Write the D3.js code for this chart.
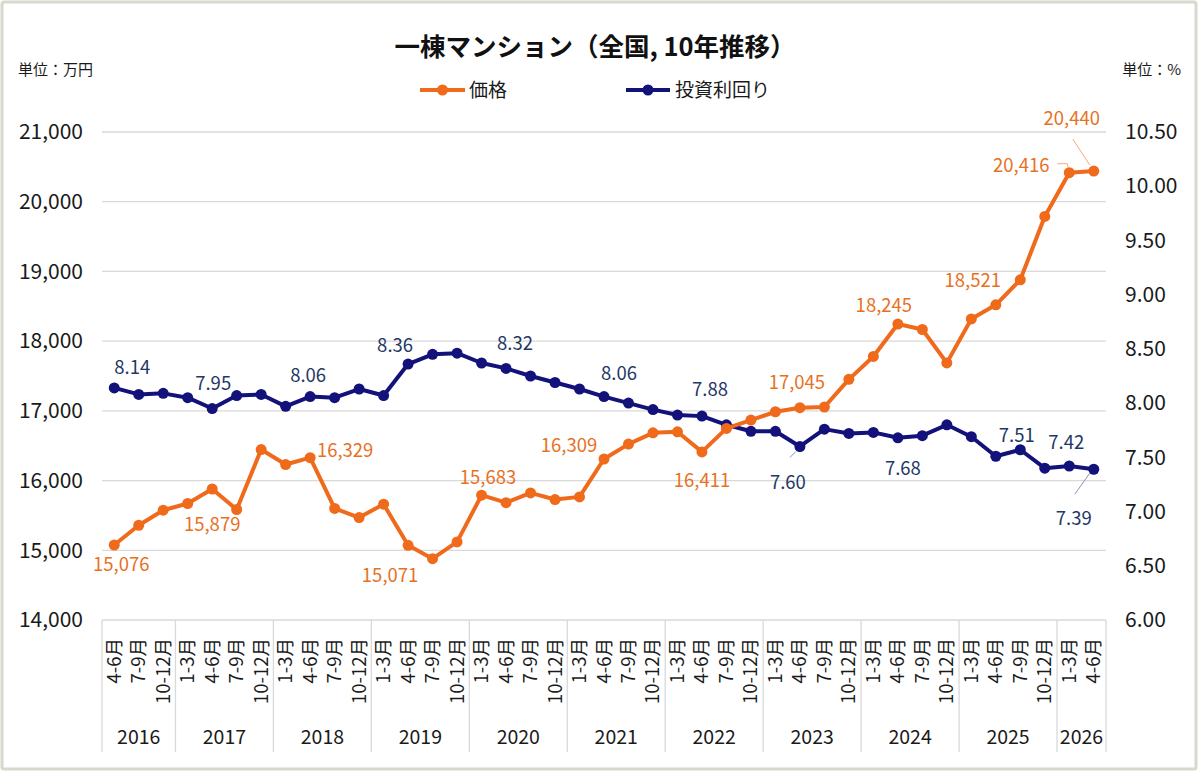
<!DOCTYPE html>
<html>
<head>
<meta charset="utf-8">
<script src="https://cdn.jsdelivr.net/npm/d3@7"></script>
<style>
  html, body { margin: 0; padding: 0; background: #fff; }
  svg { display: block; font-family: "Noto Sans CJK JP", "Noto Sans", sans-serif; }
</style>
</head>
<body>
<svg id="chart" width="1200" height="772"></svg>
<script>
// ---------------- DATA ----------------
const quarters = [
  "4-6月","7-9月","10-12月",
  "1-3月","4-6月","7-9月","10-12月",
  "1-3月","4-6月","7-9月","10-12月",
  "1-3月","4-6月","7-9月","10-12月",
  "1-3月","4-6月","7-9月","10-12月",
  "1-3月","4-6月","7-9月","10-12月",
  "1-3月","4-6月","7-9月","10-12月",
  "1-3月","4-6月","7-9月","10-12月",
  "1-3月","4-6月","7-9月","10-12月",
  "1-3月","4-6月","7-9月","10-12月",
  "1-3月","4-6月"
];
const years = [
  "2016","2016","2016",
  "2017","2017","2017","2017",
  "2018","2018","2018","2018",
  "2019","2019","2019","2019",
  "2020","2020","2020","2020",
  "2021","2021","2021","2021",
  "2022","2022","2022","2022",
  "2023","2023","2023","2023",
  "2024","2024","2024","2024",
  "2025","2025","2025","2025",
  "2026","2026"
];
const price = [15076, 15359, 15575, 15671, 15879, 15585, 16445, 16230, 16329, 15600,
               15470, 15661, 15071, 14880, 15120, 15790, 15683, 15823, 15728, 15766,
               16309, 16523, 16685, 16700, 16411, 16748, 16868, 16987, 17045, 17055,
               17452, 17780, 18245, 18167, 17688, 18318, 18521, 18880, 19789, 20416, 20440];
const yieldPct = [8.14, 8.08, 8.09, 8.05, 7.95, 8.07, 8.08, 7.97, 8.06, 8.05,
                  8.13, 8.07, 8.36, 8.45, 8.46, 8.37, 8.32, 8.25, 8.19, 8.13,
                  8.06, 8.00, 7.94, 7.89, 7.88, 7.80, 7.74, 7.74, 7.60, 7.76,
                  7.72, 7.73, 7.68, 7.70, 7.80, 7.69, 7.51, 7.57, 7.40, 7.42, 7.39];
const labeledIdx = [0, 4, 8, 12, 16, 20, 24, 28, 32, 36, 39, 40];
const leftTicks = [14000, 15000, 16000, 17000, 18000, 19000, 20000, 21000];
const rightTicks = [6.0, 6.5, 7.0, 7.5, 8.0, 8.5, 9.0, 9.5, 10.0, 10.5];
const seriesNames = ["価格", "投資利回り"];
const titleText = "一棟マンション（全国, 10年推移）";

// ---------------- LAYOUT / STYLE ----------------
const W = 1200, H = 772;
const plot = { left: 102, right: 1106, top: 132, bottom: 620, axisBottom: 752 };
const C = {
  orange: "#F06A1C", orangeText: "#E8711F",
  navy: "#12127A", navyText: "#1F3864",
  grid: "#D9D9D9", text: "#1a1a1a"
};
const priceLabelPos = {
  0: [7, 20], 4: [0, 36], 8: [35, -7], 12: [-18, 30], 16: [-18, -25], 20: [-35, -14],
  24: [0, 29], 28: [-3, -25], 32: [-14, -19], 36: [-23, -24], 39: [-48, -7], 40: [-22, -53]
};
const yieldLabelPos = {
  0: [18, -20], 4: [1, -25], 8: [-2, -21], 12: [-13, -19], 16: [9, -25], 20: [15, -23],
  24: [8, -27], 28: [-12, 36], 32: [5, 31], 36: [21, -21], 39: [-3, -23], 40: [-20, 49]
};

const svg = d3.select("#chart");

svg.append("rect").attr("x", 2).attr("y", 2).attr("width", W - 6).attr("height", H - 5)
  .attr("fill", "#fff").attr("stroke", "#D8D8CE").attr("stroke-width", 3).attr("rx", 2);

const idx = d3.range(price.length);
const x = d3.scaleBand().domain(idx).range([plot.left, plot.right]).padding(0);
const cx = i => x(i) + x.bandwidth() / 2;
const yL = d3.scaleLinear().domain([14000, 21000]).range([plot.bottom, plot.top]);
const yR = d3.scaleLinear().domain([6, 10.5]).range([plot.bottom, plot.top]);

svg.append("g").selectAll("line").data(leftTicks).join("line")
  .attr("x1", plot.left).attr("x2", plot.right)
  .attr("y1", d => yL(d)).attr("y2", d => yL(d))
  .attr("stroke", C.grid).attr("stroke-width", 1.3);

const axL = svg.append("g").attr("transform", `translate(${plot.left - 16},0)`)
  .call(d3.axisLeft(yL).tickValues(leftTicks).tickFormat(d3.format(",")).tickSize(0));
axL.select(".domain").remove();
axL.selectAll("text").attr("font-size", 21).attr("fill", C.text)
  .attr("font-family", "'Noto Sans CJK JP', sans-serif");

const axR = svg.append("g").attr("transform", `translate(${plot.right + 19},0)`)
  .call(d3.axisRight(yR).tickValues(rightTicks).tickFormat(d3.format(".2f")).tickSize(0));
axR.select(".domain").remove();
axR.selectAll("text").attr("font-size", 21).attr("fill", C.text)
  .attr("font-family", "'Noto Sans CJK JP', sans-serif").attr("x", 0);

const groups = [];
years.forEach((yv, i) => {
  if (!groups.length || groups[groups.length - 1].year !== yv) groups.push({ year: yv, start: i, end: i });
  else groups[groups.length - 1].end = i;
});
const gCat = svg.append("g");
const boundaries = [plot.left].concat(groups.map(g => x(g.end) + x.bandwidth()));
gCat.selectAll("line.sep").data(boundaries).join("line")
  .attr("class", "sep")
  .attr("x1", d => d).attr("x2", d => d)
  .attr("y1", plot.bottom).attr("y2", plot.axisBottom)
  .attr("stroke", C.grid).attr("stroke-width", 1.3);
gCat.selectAll("text.q").data(idx).join("text")
  .attr("class", "q")
  .attr("transform", i => `translate(${cx(i) + 6.5},${plot.bottom + 18}) rotate(-90)`)
  .attr("text-anchor", "end")
  .attr("font-size", 18.5).attr("fill", C.text)
  .text(i => quarters[i]);
gCat.selectAll("text.y").data(groups).join("text")
  .attr("class", "y")
  .attr("x", g => (x(g.start) + x(g.end) + x.bandwidth()) / 2)
  .attr("y", 744)
  .attr("text-anchor", "middle")
  .attr("font-size", 19.5).attr("fill", C.text)
  .text(g => g.year);

const linePrice = d3.line().x(i => cx(i)).y(i => yL(price[i]));
const lineYield = d3.line().x(i => cx(i)).y(i => yR(yieldPct[i]));

svg.append("path").datum(idx).attr("d", lineYield)
  .attr("fill", "none").attr("stroke", C.navy).attr("stroke-width", 4).attr("stroke-linejoin", "round");
svg.append("g").selectAll("circle").data(idx).join("circle")
  .attr("cx", cx).attr("cy", i => yR(yieldPct[i])).attr("r", 5.5).attr("fill", C.navy);

svg.append("path").datum(idx).attr("d", linePrice)
  .attr("fill", "none").attr("stroke", C.orange).attr("stroke-width", 4).attr("stroke-linejoin", "round");
svg.append("g").selectAll("circle").data(idx).join("circle")
  .attr("cx", cx).attr("cy", i => yL(price[i])).attr("r", 5.5).attr("fill", C.orange);

const leaders = [
  { i: 39, s: "p", pts: [[-12, -9], [-2, -9], [-1, -5]], color: "#F4A97A" },
  { i: 40, s: "p", pts: [[-21, -32], [-4, -6]], color: "#F4A97A" },
  { i: 28, s: "y", pts: [[-10, 11], [-4, 5]], color: "#8A93B8" },
  { i: 40, s: "y", pts: [[-19, 25], [-4, 4]], color: "#8A93B8" }
];
svg.append("g").selectAll("path").data(leaders).join("path")
  .attr("d", l => {
    const px = cx(l.i), py = l.s === "p" ? yL(price[l.i]) : yR(yieldPct[l.i]);
    return d3.line()(l.pts.map(p => [px + p[0], py + p[1]]));
  })
  .attr("fill", "none").attr("stroke", l => l.color).attr("stroke-width", 1);

svg.append("g").selectAll("text").data(labeledIdx).join("text")
  .attr("x", i => cx(i) + priceLabelPos[i][0])
  .attr("y", i => yL(price[i]) + priceLabelPos[i][1])
  .attr("dy", "0.35em").attr("text-anchor", "middle")
  .attr("font-size", 18.5).attr("fill", C.orangeText)
  .text(i => d3.format(",")(price[i]));
svg.append("g").selectAll("text").data(labeledIdx).join("text")
  .attr("x", i => cx(i) + yieldLabelPos[i][0])
  .attr("y", i => yR(yieldPct[i]) + yieldLabelPos[i][1])
  .attr("dy", "0.35em").attr("text-anchor", "middle")
  .attr("font-size", 18.5).attr("fill", C.navyText)
  .text(i => d3.format(".2f")(yieldPct[i]));

svg.append("text").attr("x", 595).attr("y", 56).attr("text-anchor", "middle")
  .attr("font-size", 25.5).attr("font-weight", "bold").attr("fill", "#111")
  .text(titleText);

svg.append("text").attr("x", 18).attr("y", 75).attr("font-size", 15).attr("fill", C.text).text("単位：万円");
svg.append("text").attr("x", 1181).attr("y", 75).attr("text-anchor", "end").attr("font-size", 15).attr("fill", C.text).text("単位：%");

const legend = [
  { name: seriesNames[0], color: C.orange, x1: 420, x2: 465, tx: 469 },
  { name: seriesNames[1], color: C.navy, x1: 626, x2: 670, tx: 675 }
];
const lg = svg.append("g").selectAll("g").data(legend).join("g");
lg.append("line").attr("x1", d => d.x1).attr("x2", d => d.x2).attr("y1", 90).attr("y2", 90)
  .attr("stroke", d => d.color).attr("stroke-width", 4);
lg.append("circle").attr("cx", d => (d.x1 + d.x2) / 2).attr("cy", 90).attr("r", 5.5).attr("fill", d => d.color);
lg.append("text").attr("x", d => d.tx).attr("y", 90).attr("dy", "0.35em")
  .attr("font-size", 19).attr("fill", C.text).text(d => d.name);
</script>
</body>
</html>
